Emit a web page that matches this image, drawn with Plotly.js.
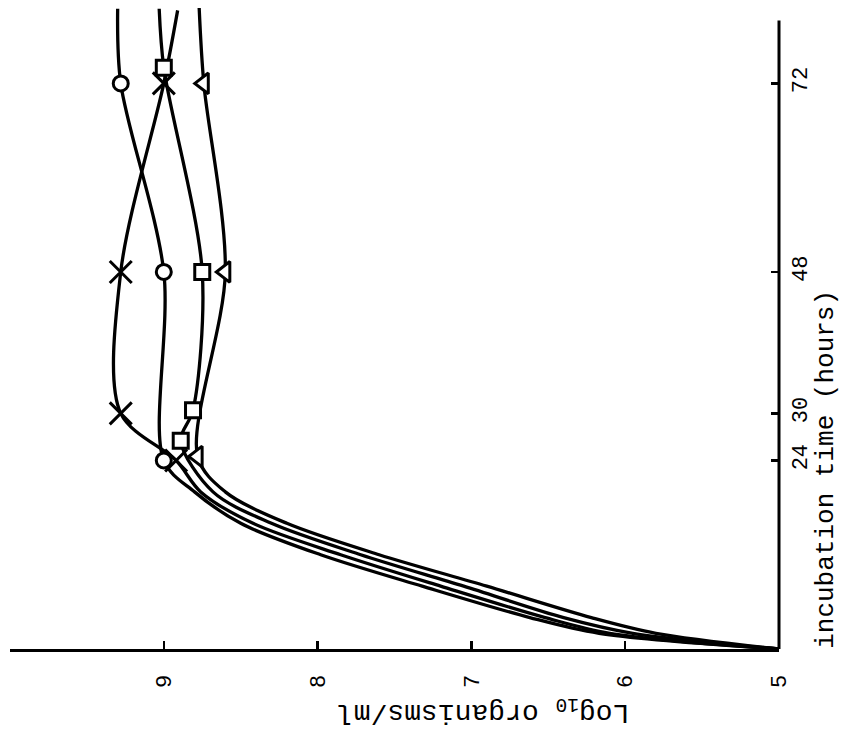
<!DOCTYPE html>
<html>
<head>
<meta charset="utf-8">
<script src="https://cdn.plot.ly/plotly-3.0.1.min.js"></script>
<style>html,body{margin:0;padding:0;background:#fff;}</style>
</head>
<body>
<div id="chart" style="width:847px;height:729px;"></div>
<script>
// incubation time (hours) and log10 organisms/ml
// unmarked growth part of each curve
const circleGrowthT = [0, 2, 4, 8, 12, 16, 20];
const circleGrowthLog = [5.0, 6.17, 6.62, 7.32, 7.98, 8.5, 8.8];
const xGrowthT = [0, 2, 4, 8, 12, 16, 20];
const xGrowthLog = [5.0, 6.1, 6.52, 7.2, 7.85, 8.42, 8.76];
const squareGrowthT = [0, 2, 4, 8, 12, 16, 20];
const squareGrowthLog = [5.0, 5.95, 6.4, 7.05, 7.72, 8.3, 8.68];
const triangleGrowthT = [0, 2, 4, 8, 12, 16, 20];
const triangleGrowthLog = [5.0, 5.8, 6.22, 6.9, 7.6, 8.2, 8.6];

// marked observations
const circleObsT = [24, 48, 72];
const circleObsLog = [9.0, 9.0, 9.28];
const xObsT = [24, 30, 48, 72];
const xObsLog = [8.92, 9.28, 9.28, 9.0];
const squareObsT = [26.5, 30.4, 48, 74];
const squareObsLog = [8.89, 8.81, 8.75, 9.0];
const triangleObsT = [24.5, 48, 72];
const triangleObsLog = [8.78, 8.60, 8.74];

// curve continuation beyond the last mark
const circleTailT = [81.5];
const circleTailLog = [9.30];
const xTailT = [81.3];
const xTailLog = [8.91];
const squareTailT = [81.5];
const squareTailLog = [9.03];
const triangleTailT = [81.6];
const triangleTailLog = [8.77];

// axis ticks
const timeTicks = [24, 30, 48, 72];
const timeTickLabels = ['24', '30', '48', '72'];
const logTicks = [5, 6, 7, 8, 9];
const logTickLabels = ['5', '6', '7', '8', '9'];

const FONT = 'Liberation Mono, Courier New, monospace';

function lineTrace(gT, gL, oT, oL, tT, tL) {
  return {
    type: 'scatter', mode: 'lines',
    x: gL.concat(oL, tL), y: gT.concat(oT, tT),
    line: {color: '#000', width: 3.3, shape: 'spline', smoothing: 0.9},
    hoverinfo: 'skip', showlegend: false
  };
}
function markTrace(oT, oL, symbol, size) {
  const open = symbol.indexOf('x-thin') === 0;
  return {
    type: 'scatter', mode: 'markers',
    x: oL, y: oT,
    marker: {symbol: symbol, size: size, color: open ? '#000' : '#fff',
             line: {color: '#000', width: 3}},
    cliponaxis: false, showlegend: false
  };
}

const data = [
  lineTrace(circleGrowthT, circleGrowthLog, circleObsT, circleObsLog, circleTailT, circleTailLog),
  lineTrace(xGrowthT, xGrowthLog, xObsT, xObsLog, xTailT, xTailLog),
  lineTrace(squareGrowthT, squareGrowthLog, squareObsT, squareObsLog, squareTailT, squareTailLog),
  lineTrace(triangleGrowthT, triangleGrowthLog, triangleObsT, triangleObsLog, triangleTailT, triangleTailLog),
  markTrace(circleObsT, circleObsLog, 'circle', 15),
  markTrace(xObsT, xObsLog, 'x-thin-open', 22),
  markTrace(squareObsT, squareObsLog, 'square', 15),
  markTrace(triangleObsT, triangleObsLog, 'triangle-left', 18)
];

const layout = {
  width: 847, height: 729,
  margin: {l: 10, r: 68, t: 8, b: 80},
  paper_bgcolor: '#fff', plot_bgcolor: '#fff',
  showlegend: false,
  xaxis: {
    range: [10, 5],
    tickvals: logTicks, ticktext: logTickLabels,
    ticks: 'inside', ticklen: 8, tickwidth: 2.5, tickcolor: '#000',
    tickangle: -90, ticklabelstandoff: 14,
    tickfont: {family: FONT, size: 22, color: '#000'},
    showline: true, linecolor: '#000', linewidth: 3,
    showgrid: false, zeroline: false
  },
  yaxis: {
    side: 'right',
    range: [0, 81.6],
    tickvals: timeTicks, ticktext: timeTickLabels,
    ticks: 'inside', ticklen: 8, tickwidth: 2.5, tickcolor: '#000',
    tickangle: -90, ticklabelstandoff: 5,
    tickfont: {family: FONT, size: 22, color: '#000'},
    showline: false, showgrid: false, zeroline: false
  },
  shapes: [
    {type: 'line', xref: 'paper', x0: 1, x1: 1, yref: 'y', y0: 0, y1: 80,
     line: {color: '#000', width: 3}}
  ],
  annotations: [
    {text: 'incubation time (hours)', textangle: -90,
     xref: 'paper', yref: 'paper', x: 1.061, y: 0.281,
     xanchor: 'center', yanchor: 'middle', showarrow: false,
     font: {family: FONT, size: 26, color: '#000'}},
    {text: 'Log<sub>10</sub> organisms/ml', textangle: 180,
     xref: 'paper', yref: 'paper', x: 0.616, y: -0.097,
     xanchor: 'center', yanchor: 'middle', showarrow: false,
     font: {family: FONT, size: 28, color: '#000'}}
  ]
};

Plotly.newPlot('chart', data, layout, {displayModeBar: false, staticPlot: true});
</script>
</body>
</html>
